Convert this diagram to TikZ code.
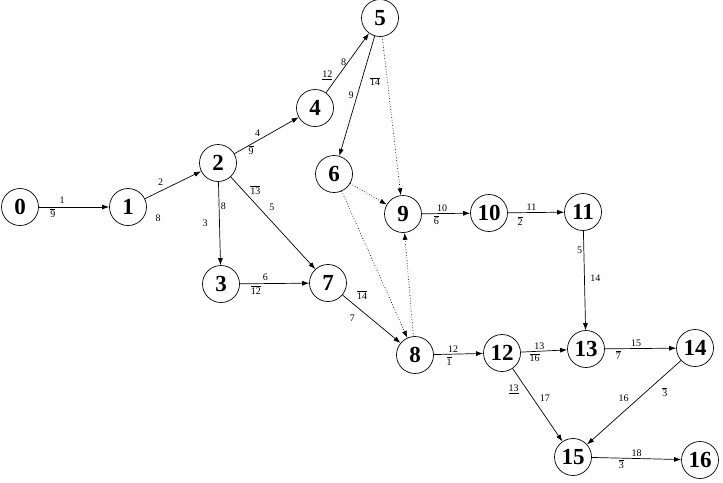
\documentclass[tikz,border=0pt]{standalone}
\usepackage{fontspec}
\setmainfont{Liberation Serif}
\usetikzlibrary{arrows.meta,positioning}
\newcommand{\dur}[1]{$\overline{\mbox{#1}}$}
\newcommand{\durl}[1]{\underline{#1}}
\tikzset{
    eventnode/.style={circle,draw,line width=0.7pt,minimum size=37pt,inner sep=0pt,font=\fontsize{23}{23}\selectfont\bfseries},
    actlabel/.style={font=\fontsize{10}{10}\selectfont,inner sep=1.5pt},
    actline/.style={-{Latex[length=7pt,width=5pt]},line width=0.7pt},
    dummyline/.style={-{Latex[length=7pt,width=5pt]},line width=0.7pt,dotted}
}

\begin{document}
\begin{tikzpicture}[x=1pt,y=-1pt]
            \useasboundingbox (0,0) rectangle (723,482);
            \node[eventnode] (n0) at (20,207) {0};
            \node[eventnode] (n1) at (128,207) {1};
            \node[eventnode] (n2) at (218,163) {2};
            \node[eventnode] (n3) at (221,284) {3};
            \node[eventnode] (n4) at (315,108) {4};
            \node[eventnode] (n5) at (380,18) {5};
            \node[eventnode] (n6) at (334,174) {6};
            \node[eventnode] (n7) at (328,283) {7};
            \node[eventnode] (n8) at (415,355) {8};
            \node[eventnode] (n9) at (403,214) {9};
            \node[eventnode] (n10) at (489,213) {10};
            \node[eventnode] (n11) at (583,212) {11};
            \node[eventnode] (n12) at (502,353) {12};
            \node[eventnode] (n13) at (586,349) {13};
            \node[eventnode] (n14) at (695,348) {14};
            \node[eventnode] (n15) at (573,457) {15};
            \node[eventnode] (n16) at (700,460) {16};
            % activities
            \draw[actline] (n0) -- node[actlabel,pos=.33,above=2pt]{1} node[actlabel,pos=.2,below]{\dur{9}} (n1);
            \draw[actline] (n1) -- node[actlabel,pos=.38,above left=2pt]{2} node[actlabel,pos=.05,below right=16pt and 6pt]{8} (n2);
            \draw[actline] (n2) -- node[actlabel,pos=.29,right]{8} node[actlabel,pos=.5,left=10pt]{3} (n3);
            \draw[actline] (n2) -- node[actlabel,pos=.43,above left]{4} node[actlabel,pos=.26,below]{\dur{9}} (n4);
            \draw[actline] (n2) -- node[actlabel,pos=.21,above right]{\dur{13}} node[actlabel,pos=.41,above right=3pt]{5} (n7);
            \draw[actline] (n3) -- node[actlabel,pos=.37,above=1pt]{6} node[actlabel,pos=.23,below]{\dur{12}} (n7);
            \draw[actline] (n4) -- node[actlabel,pos=.51,left]{8} node[actlabel,pos=.19,above left]{\durl{12}} (n5);
            \draw[actline] (n5) -- node[actlabel,pos=.49,left=2pt]{9} node[actlabel,pos=.38,right=7pt]{\dur{14}} (n6);
            \draw[actline] (n7) -- node[actlabel,pos=.34,above=10pt]{\dur{14}} node[actlabel,pos=.17,below=10pt]{7} (n8);
            \draw[actline] (n8) -- node[actlabel,pos=.39,above]{12} node[actlabel,pos=.31,below=1pt]{\dur{1}} (n12);
            \draw[actline] (n9) -- node[actlabel,pos=.42,above]{10} node[actlabel,pos=.3,below]{\dur{6}} (n10);
            \draw[actline] (n10) -- node[actlabel,pos=.42,above]{11} node[actlabel,pos=.22,below=2pt]{\dur{2}} (n11);
            \draw[actline] (n11) -- node[actlabel,pos=.2,left]{5} node[actlabel,pos=.48,right=4pt]{14} (n13);
            \draw[actline] (n12) -- node[actlabel,pos=.4,above]{13} node[actlabel,pos=.3,below]{\dur{16}} (n13);
            \draw[actline] (n12) -- node[actlabel,pos=.28,left=6pt]{\durl{13}} node[actlabel,pos=.41,right=5pt]{17} (n15);
            \draw[actline] (n13) -- node[actlabel,pos=.44,above]{15} node[actlabel,pos=.19,below]{\dur{7}} (n14);
            \draw[actline] (n14) -- node[actlabel,pos=.61,above=8pt]{16} node[actlabel,pos=.17,below=11pt]{\dur{3}} (n15);
            \draw[actline] (n15) -- node[actlabel,pos=.5,above]{18} node[actlabel,pos=.33,below]{\dur{3}} (n16);
            % dummy activities
            \draw[dummyline] (n5) -- (n9);
            \draw[dummyline] (n6) -- (n9);
            \draw[dummyline] (n6) -- (n8);
            \draw[dummyline] (n8) -- (n9);
        \end{tikzpicture}
\end{document}
